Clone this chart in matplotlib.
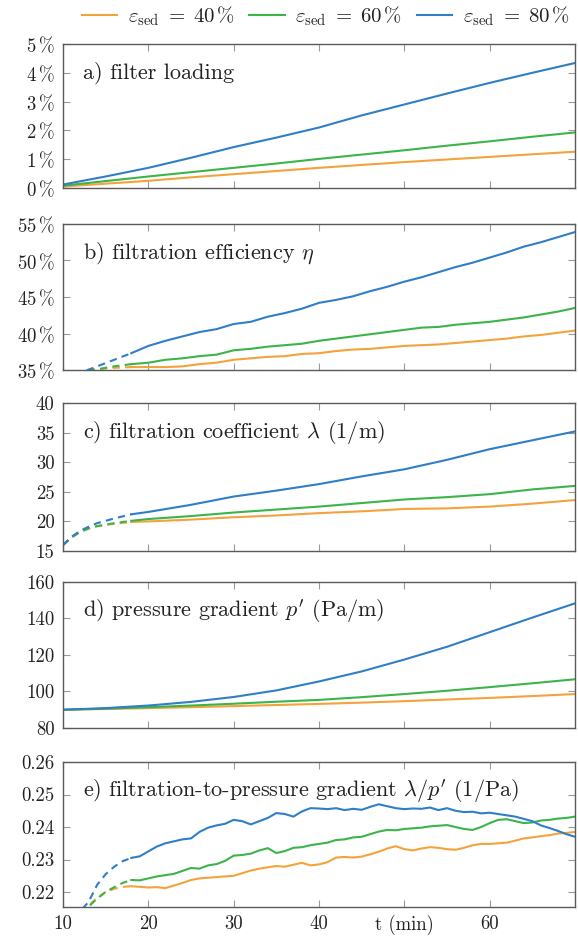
import matplotlib
matplotlib.use("Agg")
import matplotlib.pyplot as plt
import matplotlib.lines as mlines
from matplotlib.ticker import FixedLocator

plt.rcParams["font.family"] = ["cmr10", "DejaVu Serif"]
plt.rcParams["mathtext.fontset"] = "cm"
plt.rcParams["axes.unicode_minus"] = False
plt.rcParams["axes.formatter.use_mathtext"] = True

# colours and legend labels
colors = ["#f4a23c", "#3bb44a", "#2f7fc8"]
labels = [r"$\varepsilon_\mathrm{sed}\;=\;40\,\%$",
          r"$\varepsilon_\mathrm{sed}\;=\;60\,\%$",
          r"$\varepsilon_\mathrm{sed}\;=\;80\,\%$"]

# a) filter loading (%)
t_a = [10, 15, 20, 25, 30, 35, 40, 45, 50, 55, 60, 65, 70]
a_40 = [0.05, 0.15, 0.25, 0.37, 0.48, 0.59, 0.70, 0.80, 0.90, 0.99, 1.08, 1.17, 1.26]
a_60 = [0.08, 0.24, 0.40, 0.55, 0.70, 0.85, 1.01, 1.16, 1.31, 1.47, 1.62, 1.78, 1.93]
a_80 = [0.12, 0.40, 0.70, 1.05, 1.42, 1.75, 2.10, 2.52, 2.90, 3.28, 3.65, 4.00, 4.34]

# b) filtration efficiency (%)
t_b_dash = [10, 12, 14, 16, 18]
b_40_dash = [34.4, 34.8, 35.1, 35.3, 35.4]
b_60_dash = [34.3, 34.7, 35.1, 35.5, 35.8]
b_80_dash = [33.8, 34.6, 35.5, 36.4, 37.3]
t_b = [18, 20, 22, 24, 26, 28, 30, 32, 34, 36, 38, 40, 42, 44, 46, 48, 50,
       52, 54, 56, 58, 60, 62, 64, 66, 68, 70]
b_40 = [35.4, 35.4, 35.4, 35.5, 35.8, 36.0, 36.4, 36.6, 36.8, 36.9, 37.2, 37.3,
        37.6, 37.8, 37.9, 38.1, 38.3, 38.4, 38.5, 38.7, 38.9, 39.1, 39.3, 39.6,
        39.8, 40.1, 40.4]
b_60 = [35.8, 36.0, 36.4, 36.6, 36.9, 37.1, 37.7, 37.9, 38.2, 38.4, 38.6, 39.0,
        39.3, 39.6, 39.9, 40.2, 40.5, 40.8, 40.9, 41.2, 41.4, 41.6, 41.9, 42.2,
        42.6, 43.0, 43.5]
b_80 = [37.3, 38.3, 39.0, 39.6, 40.2, 40.6, 41.3, 41.6, 42.3, 42.8, 43.4, 44.2,
        44.6, 45.1, 45.8, 46.4, 47.1, 47.7, 48.4, 49.1, 49.7, 50.4, 51.1, 51.9,
        52.5, 53.2, 53.9]

# c) filtration coefficient (1/m)
t_c_dash = [10, 11, 12, 13, 14, 16, 18]
c_40_dash = [16.0, 17.3, 18.2, 18.8, 19.2, 19.6, 19.9]
c_60_dash = [16.0, 17.3, 18.2, 18.8, 19.2, 19.7, 20.1]
c_80_dash = [16.0, 17.4, 18.4, 19.1, 19.7, 20.5, 21.2]
t_c = [18, 20, 25, 30, 35, 40, 45, 50, 55, 60, 65, 70]
c_40 = [19.9, 20.0, 20.3, 20.7, 21.0, 21.4, 21.7, 22.1, 22.2, 22.5, 23.0, 23.6]
c_60 = [20.1, 20.4, 20.9, 21.5, 22.0, 22.5, 23.1, 23.7, 24.1, 24.6, 25.4, 26.0]
c_80 = [21.2, 21.6, 22.8, 24.2, 25.2, 26.3, 27.6, 28.8, 30.4, 32.2, 33.7, 35.2]

# d) pressure gradient (Pa/m)
t_d = [10, 15, 20, 25, 30, 35, 40, 45, 50, 55, 60, 65, 70]
d_40 = [90.0, 90.4, 90.9, 91.4, 92.0, 92.6, 93.2, 93.9, 94.7, 95.6, 96.5, 97.5, 98.6]
d_60 = [90.0, 90.6, 91.4, 92.3, 93.3, 94.4, 95.4, 96.9, 98.6, 100.4, 102.4, 104.5, 106.7]
d_80 = [90.0, 90.9, 92.3, 94.3, 97.0, 100.6, 105.5, 111.0, 117.5, 124.5, 132.5, 140.5, 148.3]

# e) filtration-to-pressure gradient (1/Pa)
t_e_dash = [10, 12, 13, 14, 15, 16, 17, 18]
e_40_dash = [0.2085, 0.2125, 0.2158, 0.2182, 0.2200, 0.2210, 0.2216, 0.2218]
e_60_dash = [0.2080, 0.2120, 0.2155, 0.2180, 0.2200, 0.2215, 0.2228, 0.2237]
e_80_dash = [0.2100, 0.2140, 0.2170, 0.2222, 0.2255, 0.2278, 0.2295, 0.2305]
t_e = list(range(18, 71))
e_40 = [0.2218, 0.2216, 0.2214, 0.2215, 0.2212, 0.2220, 0.2228, 0.2237, 0.2242,
        0.2244, 0.2246, 0.2248, 0.2250, 0.2258, 0.2266, 0.2272, 0.2276, 0.2280,
        0.2278, 0.2284, 0.2290, 0.2282, 0.2285, 0.2292, 0.2306, 0.2308, 0.2306,
        0.2309, 0.2316, 0.2324, 0.2334, 0.2341, 0.2332, 0.2328, 0.2334, 0.2338,
        0.2336, 0.2332, 0.2330, 0.2336, 0.2344, 0.2348, 0.2348, 0.2350, 0.2352,
        0.2358, 0.2365, 0.2368, 0.2372, 0.2375, 0.2380, 0.2382, 0.2385]
e_60 = [0.2237, 0.2236, 0.2242, 0.2248, 0.2252, 0.2256, 0.2265, 0.2274, 0.2272,
        0.2282, 0.2286, 0.2296, 0.2312, 0.2314, 0.2318, 0.2328, 0.2335, 0.2320,
        0.2326, 0.2336, 0.2338, 0.2344, 0.2348, 0.2352, 0.2360, 0.2362, 0.2368,
        0.2370, 0.2378, 0.2386, 0.2391, 0.2390, 0.2394, 0.2396, 0.2398, 0.2402,
        0.2404, 0.2406, 0.2400, 0.2394, 0.2391, 0.2400, 0.2412, 0.2422, 0.2424,
        0.2418, 0.2412, 0.2414, 0.2420, 0.2422, 0.2426, 0.2428, 0.2432]
e_80 = [0.2305, 0.2310, 0.2325, 0.2340, 0.2350, 0.2356, 0.2362, 0.2365, 0.2385,
        0.2398, 0.2405, 0.2410, 0.2422, 0.2418, 0.2408, 0.2418, 0.2428, 0.2443,
        0.2440, 0.2432, 0.2448, 0.2458, 0.2457, 0.2455, 0.2458, 0.2452, 0.2456,
        0.2453, 0.2462, 0.2470, 0.2464, 0.2458, 0.2455, 0.2457, 0.2456, 0.2460,
        0.2452, 0.2458, 0.2450, 0.2446, 0.2447, 0.2442, 0.2444, 0.2440, 0.2436,
        0.2432, 0.2425, 0.2418, 0.2405, 0.2397, 0.2388, 0.2378, 0.2370]

x_ticks = [10, 20, 30, 40, 50, 60]
x_ticklabels = ["10", "20", "30", "40", "t (min)", "60"]

fig = plt.figure(figsize=(5.78, 9.38), dpi=100)
W, H = 578, 938
left, right = 63, 575
panel_px = [(44, 188), (224, 370), (403, 551), (582, 728), (762, 907)]
axes = [fig.add_axes([left / W, 1 - b / H, (right - left) / W, (b - t) / H])
        for t, b in panel_px]

fs = 13.5
fs_title = 16
spine_c = "#5a5a5a"
tick_c = "#9a9a9a"
txt_c = "#222222"

panels = [
    (None, None, [a_40, a_60, a_80], t_a, (0, 5), [0, 1, 2, 3, 4, 5],
     [r"$%d\,\%%$" % v for v in range(0, 6)], r"a) filter loading"),
    (t_b_dash, [b_40_dash, b_60_dash, b_80_dash], [b_40, b_60, b_80], t_b,
     (35, 55), [35, 40, 45, 50, 55], [r"$%d\,\%%$" % v for v in (35, 40, 45, 50, 55)],
     r"b) filtration efficiency $\eta$"),
    (t_c_dash, [c_40_dash, c_60_dash, c_80_dash], [c_40, c_60, c_80], t_c,
     (15, 40), [15, 20, 25, 30, 35, 40], ["15", "20", "25", "30", "35", "40"],
     r"c) filtration coefficient $\lambda$ (1/m)"),
    (None, None, [d_40, d_60, d_80], t_d, (80, 160), [80, 100, 120, 140, 160],
     ["80", "100", "120", "140", "160"], r"d) pressure gradient $p'$ (Pa/m)"),
    (t_e_dash, [e_40_dash, e_60_dash, e_80_dash], [e_40, e_60, e_80], t_e,
     (0.2154, 0.26), [0.22, 0.23, 0.24, 0.25, 0.26],
     ["0.22", "0.23", "0.24", "0.25", "0.26"],
     r"e) filtration-to-pressure gradient $\lambda/p'$ (1/Pa)"),
]

for i, (ax, (td, dash, solid, ts, ylim, yt, ytl, title)) in enumerate(zip(axes, panels)):
    for k in range(3):
        if td is not None:
            ax.plot(td, dash[k], color=colors[k], lw=1.5, ls=(0, (3.5, 2.5)))
        ax.plot(ts, solid[k], color=colors[k], lw=1.5)
    ax.set_xlim(10, 70)
    ax.set_ylim(*ylim)
    ax.yaxis.set_major_locator(FixedLocator(yt))
    ax.set_yticklabels(ytl)
    ax.xaxis.set_major_locator(FixedLocator(x_ticks))
    if i == len(axes) - 1:
        ax.set_xticklabels(x_ticklabels)
    else:
        ax.set_xticklabels([])
    ax.tick_params(direction="in", top=True, right=True, length=5, width=0.8,
                   color=tick_c, labelsize=fs, pad=6, labelcolor=txt_c)
    for s in ax.spines.values():
        s.set_color(spine_c)
        s.set_linewidth(1.0)
    ax.text(20 / (right - left), 1 - 29 / (panel_px[i][1] - panel_px[i][0]), title,
            transform=ax.transAxes, fontsize=fs_title, va="center", ha="left",
            color=txt_c)

handles = [mlines.Line2D([], [], color=c, lw=1.5) for c in colors]
fig.legend(handles, labels, loc="center right", bbox_to_anchor=(1.0, 1 - 16 / H),
           ncol=3, frameon=False, fontsize=15, handlelength=1.7,
           handletextpad=0.5, columnspacing=0.7, borderaxespad=0,
           labelcolor=txt_c)

fig.savefig("out.png", dpi=100)
